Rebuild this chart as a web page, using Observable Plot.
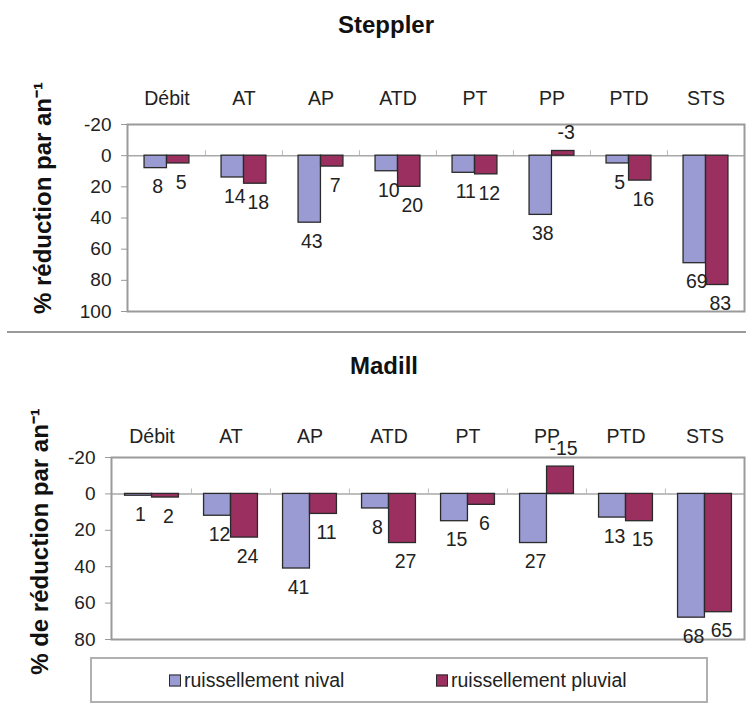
<!DOCTYPE html>
<html>
<head>
<meta charset="utf-8">
<script src="https://cdn.jsdelivr.net/npm/d3@7"></script>
<script src="https://cdn.jsdelivr.net/npm/@observablehq/plot@0.6"></script>
<style>
  body { margin: 0; background: #fff; font-family: "Liberation Sans", Arial, sans-serif; }
  #wrap { position: relative; width: 746px; height: 711px; overflow: hidden; background: #fff; }
  .abs { position: absolute; }
  .title { font-weight: bold; font-size: 24px; color: #111; transform: translate(-50%, -50%); white-space: nowrap; }
  .sep { left: 7px; top: 331px; width: 739px; height: 0; border-top: 2px solid #9a9a9a; }
  .legend { left: 90px; top: 657px; width: 614px; height: 42px; border: 2px solid #b0b0b0; background: #fff; }
  .item { position: absolute; top: 50%; transform: translateY(-50%); display: flex; align-items: center; font-size: 19.5px; color: #222; white-space: nowrap; }
  .sw { width: 10px; height: 10px; border: 1.5px solid #2a2a2a; margin-right: 3px; }
</style>
</head>
<body>
<div id="wrap"></div>
<script>
// ---- data ----
const categories = ["Débit", "AT", "AP", "ATD", "PT", "PP", "PTD", "STS"];
const seriesNames = ["ruissellement nival", "ruissellement pluvial"];
const stepplerNival   = [8, 14, 43, 10, 11, 38, 5, 69];
const stepplerPluvial = [5, 18, 7, 20, 12, -3, 16, 83];
const madillNival     = [1, 12, 41, 8, 15, 27, 13, 68];
const madillPluvial   = [2, 24, 11, 27, 6, -15, 15, 65];
const stepplerTicks = [-20, 0, 20, 40, 60, 80, 100];
const madillTicks   = [-20, 0, 20, 40, 60, 80];
const titles = ["Steppler", "Madill"];
const yLabels = ["% réduction par an⁻¹", "% de réduction par an⁻¹"];

const FONT = '"Liberation Sans", Arial, sans-serif';
const COLORS = ["#9b9bd3", "#9a2f60"];
const W = 746;

function makeChart(o) {
  const rows = categories.map((c, i) => ({ category: c, nival: o.nival[i], pluvial: o.pluvial[i] }));
  const bw = (W - o.ml - o.mr) / categories.length;
  const half = bw / 2;
  const inner = half - o.barW;
  const labels = (key, dx) => [
    Plot.text(rows.filter(d => d[key] >= 0), { x: "category", y: key, text: d => String(d[key]), dx, dy: 19, fontSize: 19.5, fill: "#222" }),
    Plot.text(rows.filter(d => d[key] < 0), { x: "category", y: key, text: d => String(d[key]), dx, dy: -18, fontSize: 19.5, fill: "#222" })
  ];
  return Plot.plot({
    width: W,
    height: o.height,
    marginTop: o.mt,
    marginBottom: o.mb,
    marginLeft: o.ml,
    marginRight: o.mr,
    style: { fontFamily: FONT, fontSize: "18px", color: "#222", background: "transparent", overflow: "visible" },
    x: { type: "band", domain: categories, padding: 0, axis: null },
    y: { domain: [o.ticks[0], o.ticks[o.ticks.length - 1]], reverse: true, axis: null },
    marks: [
      Plot.ruleY([0], { stroke: "#a8a8a8", strokeWidth: 1.5 }),
      Plot.ruleX(categories.slice(1), { x: d => d, dx: -half, y1: 0, y2: o.tickUp, stroke: "#bbb", strokeWidth: 1 }),
      Plot.barY(rows, { x: "category", y1: 0, y2: "nival", fill: COLORS[0], stroke: "#2a2a2a", strokeWidth: 1.3, insetLeft: inner, insetRight: half }),
      Plot.barY(rows, { x: "category", y1: 0, y2: "pluvial", fill: COLORS[1], stroke: "#2a2a2a", strokeWidth: 1.3, insetLeft: half, insetRight: inner }),
      Plot.frame({ stroke: "#9a9a9a", strokeWidth: 2 }),
      Plot.axisY({ ticks: o.ticks, tickSize: 6, tickPadding: 10, stroke: "#999", fontSize: 19, label: null, tickFormat: d => String(d), fill: "#222" }),
      Plot.text(categories, { x: d => d, frameAnchor: "top", lineAnchor: "middle", dy: o.catDy, fontSize: 19.5, fill: "#222" }),
      ...labels("nival", -o.barW / 2 + 2),
      ...labels("pluvial", o.barW / 2 + 3),
      Plot.text([o.yLabel], { frameAnchor: "left", textAnchor: "middle", lineAnchor: "middle", rotate: -90, dx: o.labDx, dy: o.labDy, fontSize: 24, fontWeight: "bold", fill: "#111" })
    ]
  });
}

const wrap = document.getElementById("wrap");

const chartTop = makeChart({
  nival: stepplerNival, pluvial: stepplerPluvial, ticks: stepplerTicks,
  height: 330, mt: 124, mb: 19, ml: 127, mr: 2, barW: 22.5, tickUp: -3.2,
  catDy: -26, yLabel: yLabels[0], labDx: -84, labDy: -20
});
chartTop.style.position = "absolute"; chartTop.style.left = "0px"; chartTop.style.top = "0px";
wrap.appendChild(chartTop);

const chartBottom = makeChart({
  nival: madillNival, pluvial: madillPluvial, ticks: madillTicks,
  height: 325, mt: 127, mb: 16, ml: 111, mr: 2, barW: 27, tickUp: -2.7,
  catDy: -21, yLabel: yLabels[1], labDx: -71, labDy: -7
});
chartBottom.style.position = "absolute"; chartBottom.style.left = "0px"; chartBottom.style.top = "330px";
wrap.appendChild(chartBottom);

// titles
[[titles[0], 386, 25], [titles[1], 384, 366]].forEach(([t, x, y]) => {
  const d = document.createElement("div");
  d.className = "abs title"; d.textContent = t;
  d.style.left = x + "px"; d.style.top = y + "px";
  wrap.appendChild(d);
});

// separator
const sep = document.createElement("div");
sep.className = "abs sep";
wrap.appendChild(sep);

// legend
const leg = document.createElement("div");
leg.className = "abs legend";
[[seriesNames[0], COLORS[0], 77], [seriesNames[1], COLORS[1], 344]].forEach(([name, c, x]) => {
  const it = document.createElement("div");
  it.className = "item"; it.style.left = x + "px";
  const sw = document.createElement("span");
  sw.className = "sw"; sw.style.background = c;
  const tx = document.createElement("span");
  tx.textContent = name;
  it.appendChild(sw); it.appendChild(tx);
  leg.appendChild(it);
});
wrap.appendChild(leg);
</script>
</body>
</html>
